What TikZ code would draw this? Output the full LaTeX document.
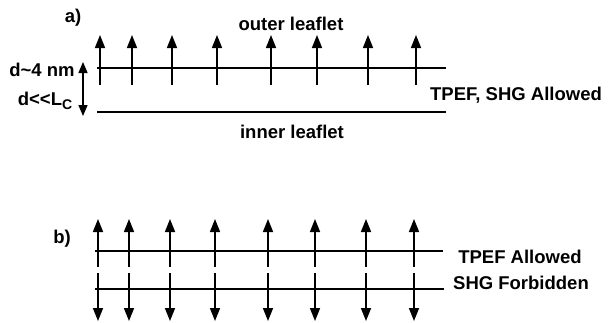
\documentclass[tikz,border=0pt]{standalone}
\usepackage{fontspec}
\setmainfont{Liberation Sans}
\usetikzlibrary{arrows.meta}

\tikzset{
  lbl/.style={font=\fontsize{18.5}{21}\selectfont\bfseries, inner sep=0pt},
  leaflet/.style={line width=1.4pt},
  dipole/.style={line width=1.6pt, -{Triangle[width=10pt,length=13pt]}},
}

\begin{document}
\begin{tikzpicture}[x=1pt,y=-1pt]
	\useasboundingbox (0,0) rectangle (615,322);
	% a) membrane with both leaflets
	\path (73,18) node[lbl] (pa) {a)}
		(291,30) node[lbl, anchor=base] (outer) {outer leaflet}
		(292,138) node[lbl, anchor=base] (inner) {inner leaflet}
		(516,95) node[lbl] (allowed) {TPEF, SHG Allowed}
		(42,70) node[lbl] (dist) {d\textasciitilde 4 nm}
		(45,101) node[lbl] (dlc) {d<\kern0pt<L\raisebox{-0.35ex}{\fontsize{14}{14}\selectfont C}};
	\coordinate (dtop) at (83,62);
	\coordinate (dbot) at (83,116);

	\draw[leaflet] (97,68) -- (446,68);
	\draw[leaflet] (97,112) -- (446,112);
	\draw[line width=1.4pt, {Triangle[width=9pt,length=11pt]}-{Triangle[width=9pt,length=11pt]}] (dtop) -- (dbot);
	\foreach \x in {100,132,172,217,271,317,368,416}
		\draw[dipole] (\x,85) -- (\x,35);

	% b) symmetric distribution
	\path (62,239) node[lbl] (pb) {b)}
		(520,257) node[lbl] (tpef) {TPEF Allowed}
		(521,283) node[lbl] (shg) {SHG Forbidden};

	\draw[leaflet] (95,251) -- (443,251);
	\draw[leaflet] (95,289) -- (444,289);
	\foreach \x in {98,129,170,215,268,315,366,414} {
		\draw[dipole] (\x,267) -- (\x,219);
		\draw[dipole] (\x,273) -- (\x,321);
	}
\end{tikzpicture}
\end{document}
